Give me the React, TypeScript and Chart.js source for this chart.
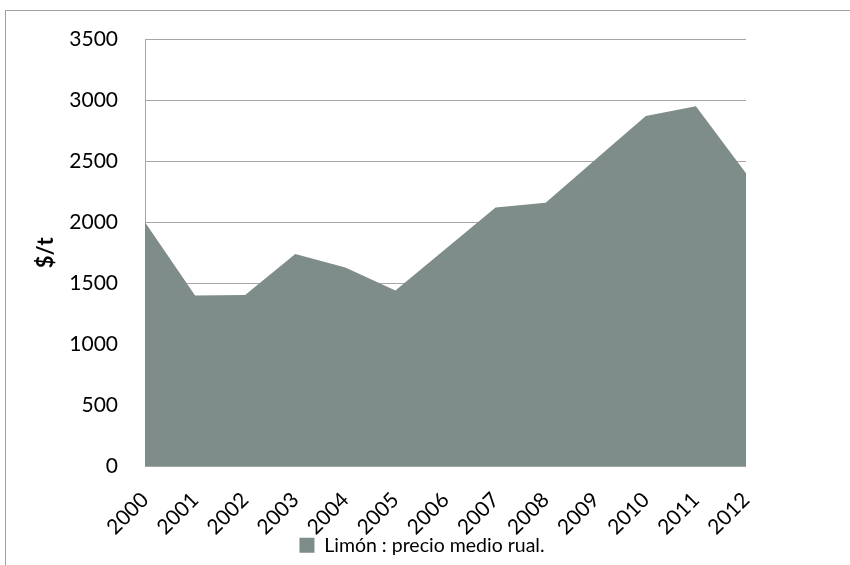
import React, { useEffect, useRef } from "react";
import { Chart, registerables } from "chart.js";

Chart.register(...registerables);

const years = ["2000", "2001", "2002", "2003", "2004", "2005", "2006", "2007", "2008", "2009", "2010", "2011", "2012"];
const prices = [2000, 1400, 1405, 1740, 1630, 1440, 1780, 2120, 2160, 2515, 2870, 2950, 2400];
const yMin = 0;
const yMax = 3500;
const yStep = 500;
const seriesLabel = "Limón : precio medio rual.";
const axisTitle = "$/t";

const FONT = "Lato, 'Open Sans', sans-serif";

const legendShift = {
  id: "legendShift",
  afterLayout(chart: any) {
    if (chart.legend) {
      chart.legend.left -= 6;
      chart.legend.right -= 6;
    }
  },
};

export default function App() {
  const ref = useRef<HTMLCanvasElement | null>(null);

  useEffect(() => {
    if (!ref.current) return;
    const chart = new Chart(ref.current, {
      type: "line",
      data: {
        labels: years,
        datasets: [
          {
            label: seriesLabel,
            data: prices,
            fill: "origin",
            backgroundColor: "#7E8C8A",
            borderColor: "#7E8C8A",
            borderWidth: 0,
            pointRadius: 0,
            tension: 0,
          },
        ],
      },
      plugins: [legendShift],
      options: {
        animation: false,
        responsive: false,
        layout: { padding: { top: 28, left: 0, right: 0, bottom: 0 } },
        scales: {
          x: {
            offset: false,
            grid: { display: false },
            border: { display: false },
            ticks: {
              autoSkip: false,
              minRotation: 45,
              maxRotation: 45,
              padding: 13,
              color: "#000",
              font: { family: FONT, size: 21 },
            },
            afterFit: (s: any) => {
              s.height = 59;
              s._computeLabelArea = () => undefined;
            },
          },
          y: {
            min: yMin,
            max: yMax,
            ticks: {
              stepSize: yStep,
              padding: 27,
              color: "#000",
              font: { family: FONT, size: 21 },
              callback: (v: any) => String(v),
            },
            grid: { color: "#a6a6a6", drawTicks: false, lineWidth: 1 },
            border: { color: "#a6a6a6" },
            title: {
              display: true,
              text: axisTitle,
              color: "#000",
              font: { family: FONT, size: 22, weight: "bold" },
              padding: { top: 27, bottom: 0 },
            },
            afterFit: (s: any) => {
              s.width = 139;
              s.paddingTop = 0;
              s.paddingBottom = 0;
            },
          },
          y2: {
            position: "right",
            display: true,
            grid: { display: false, drawTicks: false },
            border: { display: false },
            ticks: { display: false },
            afterFit: (s: any) => {
              s.width = 104;
              s.paddingTop = 0;
              s.paddingBottom = 0;
            },
          },
        },
        plugins: {
          legend: {
            position: "bottom",
            labels: {
              boxWidth: 15,
              boxHeight: 15,
              padding: 10,
              color: "#000",
              font: { family: FONT, size: 19.5 },
            },
          },
          tooltip: { enabled: false },
        },
      },
    });
    return () => chart.destroy();
  }, []);

  return (
    <div
      style={{
        position: "absolute",
        left: 5,
        top: 10,
        width: 845,
        height: 555,
        borderTop: "1px solid #a0a0a0",
        borderLeft: "1px solid #a0a0a0",
        background: "#fff",
        overflow: "hidden",
      }}
    >
      <canvas ref={ref} width={844} height={554} style={{ display: "block" }} />
    </div>
  );
}
